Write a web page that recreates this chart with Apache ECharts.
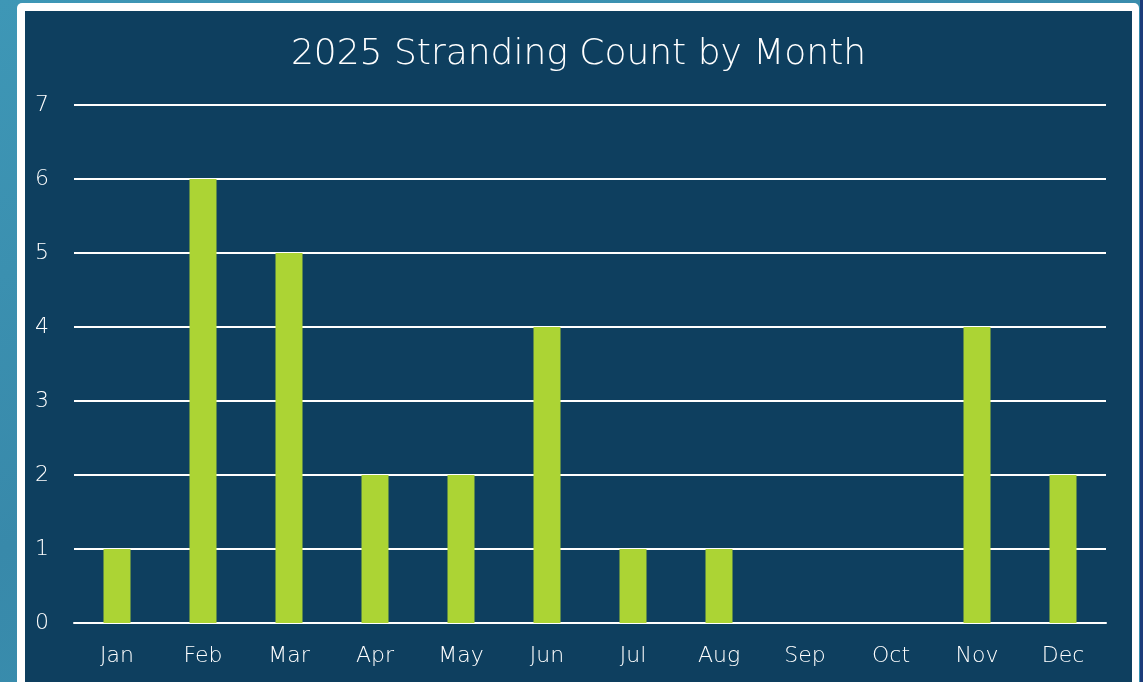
<!DOCTYPE html>
<html>
<head>
<meta charset="utf-8">
<script src="https://cdn.jsdelivr.net/npm/echarts@6/dist/echarts.min.js"></script>
<style>
  html, body { margin: 0; padding: 0; }
  body {
    width: 1143px;
    height: 682px;
    overflow: hidden;
    position: relative;
    background: linear-gradient(160deg, #3e97b6 0%, #3889aa 50%, #3a93b2 100%);
  }
  #edge {
    position: absolute;
    left: 1140px;
    top: 0;
    width: 3px;
    height: 682px;
    background: #1c3c7a;
  }
  #frame {
    position: absolute;
    left: 17px;
    top: 3px;
    width: 1122px;
    height: 700px;
    background: #ffffff;
    border-radius: 5px;
  }
  #chart {
    position: absolute;
    left: 25px;
    top: 11px;
    width: 1107px;
    height: 671px;
    background: #0e3f5f;
  }
</style>
</head>
<body>
<div id="edge"></div>
<div id="frame"></div>
<div id="chart"></div>
<script>
const months = ['Jan', 'Feb', 'Mar', 'Apr', 'May', 'Jun', 'Jul', 'Aug', 'Sep', 'Oct', 'Nov', 'Dec']
const strandings = [1, 6, 5, 2, 2, 4, 1, 1, 0, 0, 4, 2]
const chartTitle = '2025 Stranding Count by Month'

const fontFamily = '"DejaVu Sans", sans-serif'
const chart = echarts.init(document.getElementById('chart'))

chart.setOption({
  backgroundColor: '#0e3f5f',
  animation: false,
  title: {
    text: chartTitle,
    left: 'center',
    top: 21,
    textStyle: {
      color: '#ffffff',
      fontSize: 36,
      fontWeight: 200,
      fontFamily: fontFamily,
    },
  },
  grid: {
    left: 49,
    right: 26,
    top: 94,
    bottom: 59,
    containLabel: false,
  },
  xAxis: {
    type: 'category',
    data: months,
    axisLine: {
      lineStyle: { color: '#ffffff', width: 2 },
    },
    axisTick: { show: false },
    axisLabel: {
      color: '#ffffff',
      fontSize: 22,
      fontWeight: 200,
      fontFamily: fontFamily,
      margin: 22,
    },
  },
  yAxis: {
    type: 'value',
    min: 0,
    max: 7,
    interval: 1,
    axisLine: { show: false },
    axisTick: { show: false },
    splitLine: {
      lineStyle: { color: '#ffffff', width: 2 },
    },
    axisLabel: {
      color: '#ffffff',
      fontSize: 22,
      fontWeight: 200,
      fontFamily: fontFamily,
      margin: 25,
    },
  },
  series: [
    {
      type: 'bar',
      data: strandings,
      barWidth: 27,
      itemStyle: {
        color: '#acd434',
      },
    },
  ],
})
</script>
</body>
</html>
